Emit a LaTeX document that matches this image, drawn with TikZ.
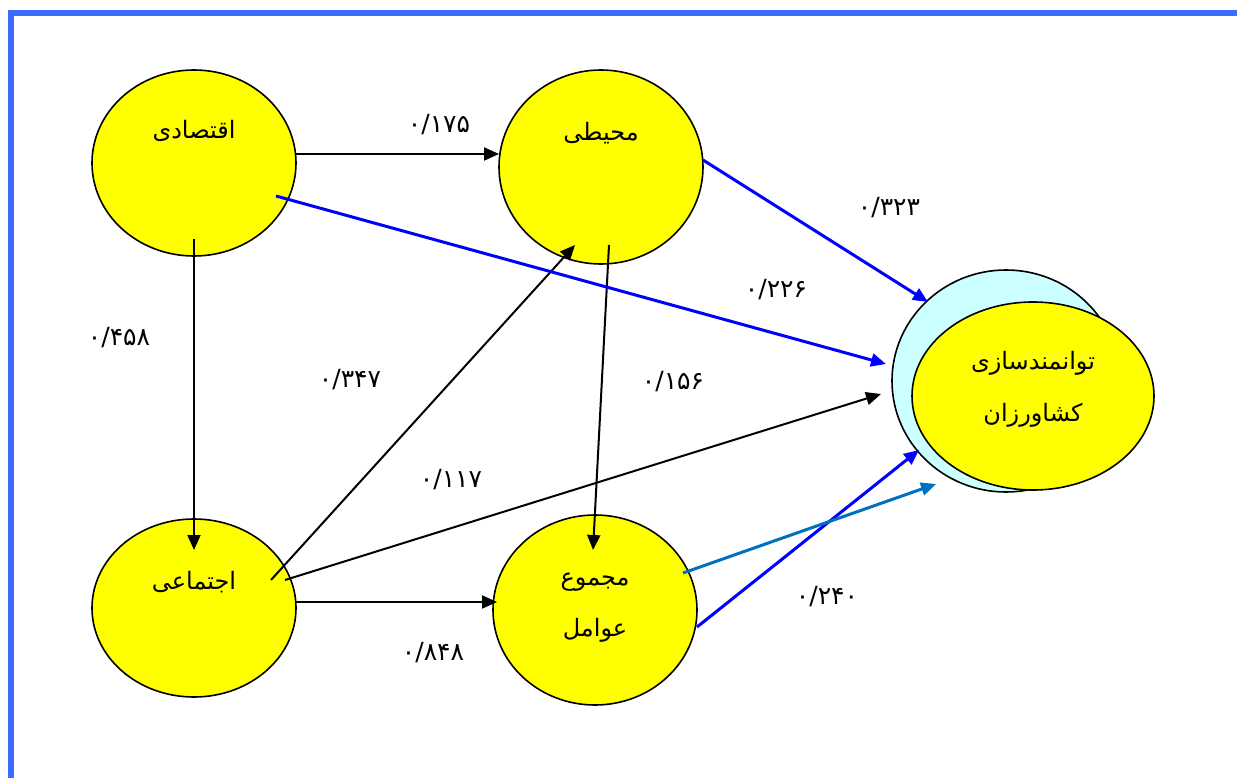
\documentclass[tikz,border=0pt]{standalone}
\usepackage{fontspec}
\usetikzlibrary{calc,shapes.geometric,arrows.meta}
\TeXXeTstate=1
\newfontfamily\farsifont[Script=Arabic]{DejaVu Sans}
\definecolor{framecol}{RGB}{59,107,255}
\definecolor{backcyan}{RGB}{204,255,255}
\definecolor{factoryellow}{RGB}{255,255,0}
\definecolor{pureblue}{RGB}{0,0,255}
\definecolor{skyblue}{RGB}{0,112,192}
\tikzset{
	factor/.style={ellipse, draw=black, line width=1.6pt, fill=factoryellow, inner sep=0pt},
	word/.style={font=\farsifont\fontsize{24}{28}\selectfont, inner sep=0pt},
	coef/.style={font=\farsifont\fontsize{25}{30}\selectfont, inner sep=0pt},
	blackarrow/.style={draw=black, line width=2pt, -{Triangle[length=15pt,width=13pt]}},
	bluearrow/.style={draw=pureblue, line width=3pt, -{Triangle[length=15pt,width=13pt]}},
	skyarrow/.style={draw=skyblue, line width=3pt, -{Triangle[length=15pt,width=13pt]}}
}

\begin{document}
\begin{tikzpicture}[x=1pt, y=-1pt]
			%%%%% START %%%%%
			\useasboundingbox (0, 0) rectangle (1237, 778);
			\fill[white] (0, 0) rectangle (1237, 778);
			
			\draw[framecol, line width=6pt] (11, 778) -- (11, 13) -- (1237, 13);
			
			\node[factor, minimum width=204pt, minimum height=186pt] (eqt) at (194, 163) {};
			\node[factor, minimum width=204pt, minimum height=194pt] (moh) at (601, 167) {};
			\node[factor, minimum width=204pt, minimum height=178pt] (ejt) at (194, 608) {};
			\node[factor, minimum width=204pt, minimum height=190pt] (maj) at (595, 610) {};
			\node[factor, fill=backcyan, minimum width=228pt, minimum height=222pt] (tavback) at (1006, 381) {};
			\node[factor, minimum width=242pt, minimum height=188pt] (tav) at (1033, 396) {};
			
			\node[word] (eqttxt) at (194, 131) {\beginR اقتصادی\endR};
			\node[word] (mohtxt) at (601, 133) {\beginR محیطی\endR};
			\node[word] (ejttxt) at (194, 582) {\beginR اجتماعی\endR};
			\node[word] (majtxta) at (595, 582) {\beginR مجموع\endR};
			\node[word] (majtxtb) at (595, 630) {\beginR عوامل\endR};
			\node[word] (tavtxta) at (1033, 363) {\beginR توانمندسازی\endR};
			\node[word] (tavtxtb) at (1033, 415) {\beginR کشاورزان\endR};
			
			\draw[blackarrow] ($(eqt)+(102,-9)$) -- ($(moh)+(-102,-13)$);
			\draw[blackarrow] ($(eqt)+(0,76)$) -- ($(ejt)+(0,-58)$);
			\draw[blackarrow] ($(ejt)+(77,-28)$) -- ($(moh)+(-26,78)$);
			\draw[blackarrow] ($(moh)+(8,78)$) -- ($(maj)+(-2,-60)$);
			\draw[blackarrow] ($(ejt)+(102,-6)$) -- ($(maj)+(-98,-8)$);
			\draw[blackarrow] ($(ejt)+(91,-28)$) -- ($(tav)+(-152,-2)$);
			
			\draw[bluearrow] ($(eqt)+(82,33)$) -- ($(tav)+(-147,-32)$);
			\draw[bluearrow] ($(moh)+(102,-7)$) -- ($(tav)+(-105,-94)$);
			\draw[bluearrow] ($(maj)+(102,17)$) -- ($(tav)+(-114,54)$);
			\draw[skyarrow] ($(maj)+(88,-37)$) -- ($(tav)+(-97,88)$);
			
			\node[coef] (c175) at (439, 125) {۰/۱۷۵};
			\node[coef] (c458) at (119, 338) {۰/۴۵۸};
			\node[coef] (c347) at (350, 380) {۰/۳۴۷};
			\node[coef] (c117) at (451, 480) {۰/۱۱۷};
			\node[coef] (c848) at (433, 653) {۰/۸۴۸};
			\node[coef] (c156) at (673, 382) {۰/۱۵۶};
			\node[coef] (c323) at (889, 208) {۰/۳۲۳};
			\node[coef] (c226) at (776, 290) {۰/۲۲۶};
			\node[coef] (c240) at (827, 597) {۰/۲۴۰};
			%%%%% END %%%%%
\end{tikzpicture}
\end{document}
